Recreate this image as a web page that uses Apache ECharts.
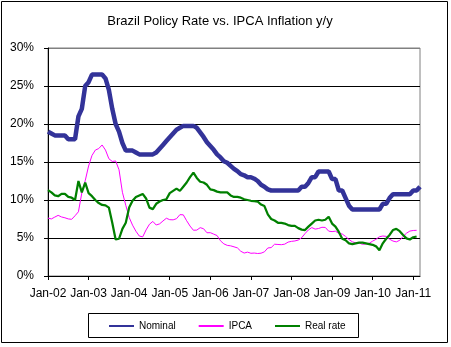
<!DOCTYPE html>
<html>
<head>
<meta charset="utf-8">
<script src="https://cdn.jsdelivr.net/npm/echarts@6/dist/echarts.min.js"></script>
<style>
html,body{margin:0;padding:0;background:#fff;}
#c{width:451px;height:347px;}
</style>
</head>
<body>
<div id="c"></div>
<script>
const titleText = 'Brazil Policy Rate vs. IPCA Inflation y/y';
const monthNames = ['Jan','Feb','Mar','Apr','May','Jun','Jul','Aug','Sep','Oct','Nov','Dec'];
const years = ['02','03','04','05','06','07','08','09','10','11'];
const seriesNames = ['Nominal', 'IPCA', 'Real rate'];
const yTicks = [0, 5, 10, 15, 20, 25, 30];

// monthly, Jan-02 .. Mar-11
const nominal = [
  19.0,18.75,18.5,18.5,18.5,18.5,18.0,18.0,18.0,21.0,22.0,25.0,
  25.5,26.5,26.5,26.5,26.5,26.0,24.5,22.0,20.0,19.0,17.5,16.5,
  16.5,16.5,16.25,16.0,16.0,16.0,16.0,16.0,16.25,16.75,17.25,17.75,
  18.25,18.75,19.25,19.5,19.75,19.75,19.75,19.75,19.5,18.9,18.3,17.6,
  17.1,16.6,16.0,15.6,15.1,14.9,14.5,14.1,13.8,13.4,13.25,13.0,
  13.0,12.8,12.5,12.0,11.75,11.4,11.25,11.25,11.25,11.25,11.25,11.25,
  11.25,11.25,11.25,11.75,11.75,12.25,13.0,13.0,13.75,13.75,13.75,13.75,
  12.75,12.75,11.25,11.25,10.25,9.25,8.75,8.75,8.75,8.75,8.75,8.75,
  8.75,8.75,8.75,9.5,9.5,10.25,10.75,10.75,10.75,10.75,10.75,10.75,
  11.25,11.25,11.75
];
const ipca = [
  7.62,7.51,7.75,7.98,7.77,7.66,7.51,7.46,7.93,8.45,10.93,12.53,
  14.47,15.85,16.57,16.77,17.24,16.57,15.43,15.07,15.14,13.98,11.02,9.30,
  7.71,6.69,5.89,5.26,5.15,6.06,6.81,7.18,6.71,6.86,7.24,7.60,
  7.41,7.39,7.54,8.07,8.05,7.27,6.57,6.02,6.04,6.36,6.22,5.69,
  5.70,5.51,5.32,4.63,4.23,4.03,3.97,3.84,3.70,3.26,3.02,3.14,
  2.99,3.02,2.96,3.00,3.18,3.69,3.74,4.18,4.15,4.12,4.19,4.46,
  4.56,4.61,4.73,5.04,5.58,6.06,6.37,6.17,6.25,6.41,6.39,5.90,
  5.84,5.90,5.61,5.53,5.20,4.80,4.50,4.36,4.34,4.17,4.22,4.31,
  4.59,4.83,5.17,5.26,5.22,4.84,4.60,4.49,4.70,5.20,5.63,5.91,
  5.99,6.01
];
const realRate = [
  11.3,11.0,10.6,10.5,10.8,10.8,10.4,10.3,10.0,12.5,11.0,12.3,
  10.9,10.5,10.0,9.6,9.35,9.3,9.0,7.0,4.8,4.9,6.2,7.0,
  9.0,9.9,10.4,10.6,10.8,10.2,9.0,8.8,9.5,9.8,10.0,10.1,
  10.9,11.2,11.5,11.2,11.75,12.3,13.0,13.6,12.9,12.4,12.3,12.0,
  11.4,11.3,11.1,11.0,11.0,11.0,10.6,10.4,10.4,10.3,10.1,10.0,
  9.9,9.85,9.8,9.4,9.2,8.1,7.5,7.3,7.0,7.0,6.9,6.7,
  6.6,6.6,6.3,6.1,6.05,6.5,6.9,7.3,7.4,7.3,7.4,7.8,
  6.9,6.5,5.8,4.9,4.7,4.3,4.2,4.3,4.4,4.4,4.3,4.2,
  4.1,3.9,3.4,4.3,4.9,5.4,6.05,6.2,5.9,5.4,4.95,4.8,
  5.1,5.2
];

const categories = [];
for (let yi = 0; yi < years.length; yi++) {
  for (let mi = 0; mi < 12; mi++) {
    if (categories.length < nominal.length) categories.push(monthNames[mi] + '-' + years[yi]);
  }
}

const FONT = '"Liberation Sans", Arial, sans-serif';
const chart = echarts.init(document.getElementById('c'), null, {renderer: 'canvas'});
chart.setOption({
  animation: false,
  backgroundColor: '#fff',
  textStyle: {fontFamily: FONT},
  graphic: [
    {type: 'rect', shape: {x: 1.5, y: 1.5, width: 446, height: 341}, style: {fill: 'none', stroke: '#000', lineWidth: 1}, z: 0},
    {type: 'text', x: 220, y: 15, style: {text: titleText, textAlign: 'center', font: '13px ' + FONT, fill: '#000'}},
    {type: 'rect', shape: {x: 88.5, y: 313.5, width: 270, height: 24}, style: {fill: 'none', stroke: '#000', lineWidth: 1}}
  ],
  legend: {
    left: 108, top: 321, padding: 0, itemWidth: 25, itemHeight: 10, itemGap: 22,
    itemStyle: {opacity: 0},
    textStyle: {fontSize: 10, color: '#000', fontFamily: FONT},
    data: seriesNames
  },
  grid: {left: 48, top: 48, width: 372, height: 228, show: true, borderColor: '#808080', borderWidth: 1, containLabel: false},
  xAxis: {
    type: 'category', data: categories, boundaryGap: false,
    axisLine: {lineStyle: {color: '#000', width: 1}},
    axisTick: {show: true, interval: 11, length: 4, lineStyle: {color: '#000'}},
    axisLabel: {interval: 11, color: '#000', fontSize: 12, margin: 12, fontFamily: FONT},
    splitLine: {show: false}
  },
  yAxis: {
    type: 'value', min: yTicks[0], max: yTicks[yTicks.length - 1], interval: 5,
    axisLine: {show: true, lineStyle: {color: '#000', width: 1}},
    axisTick: {show: true, length: 4, lineStyle: {color: '#000'}},
    axisLabel: {formatter: '{value}%', color: '#000', fontSize: 12, margin: 14, fontFamily: FONT},
    splitLine: {show: true, lineStyle: {color: ['#000','#000','#000','#000','#000','#000','#808080'], width: 1}}
  },
  series: [
    {name: seriesNames[0], type: 'line', data: nominal, symbol: 'none', lineStyle: {color: '#333399', width: 4.5}, itemStyle: {color: '#333399'}, z: 2},
    {name: seriesNames[1], type: 'line', data: ipca, symbol: 'none', lineStyle: {color: '#FF00FF', width: 1}, itemStyle: {color: '#FF00FF'}, z: 3},
    {name: seriesNames[2], type: 'line', data: realRate, symbol: 'none', lineStyle: {color: '#008000', width: 2.25}, itemStyle: {color: '#008000'}, z: 4}
  ]
});
</script>
</body>
</html>
